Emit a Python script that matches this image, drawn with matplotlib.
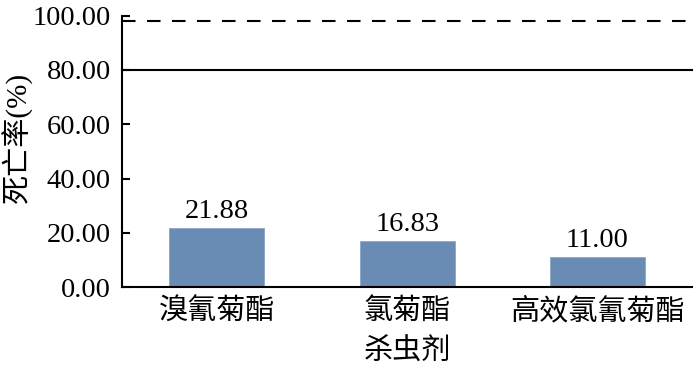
import matplotlib
matplotlib.use('Agg')
import matplotlib.pyplot as plt

plt.rcParams['font.family'] = ['Liberation Serif', 'Noto Sans CJK SC']

categories = ['溴氰菊酯', '氯菊酯', '高效氯氰菊酯']
mortality = [21.88, 16.83, 11.00]
ref_solid = 80
ref_dashed = 98
yticks = [0, 20, 40, 60, 80, 100]

fig = plt.figure(figsize=(7, 3.71), dpi=100)
ax = fig.add_axes([0.174, 0.226, 0.815, 0.732])

x = range(len(categories))
bars = ax.bar(x, mortality, width=0.5, color='#6a8bb4', edgecolor='#8aa6c8', linewidth=0.6, zorder=2)
for xi, v in zip(x, mortality):
    ax.annotate('%.2f' % v, (xi, v), xytext=(0, 3), textcoords='offset points',
                ha='center', va='bottom', fontsize=20.5)

ax.axhline(ref_solid, color='black', lw=1.5, clip_on=False)
ax.axhline(ref_dashed, color='black', lw=1.5, dashes=(6.5, 5.5), clip_on=False)

ax.set_xlim(-0.5, 2.5)
ax.set_ylim(0, 100)
ax.set_yticks(yticks)
ax.set_yticklabels(['%.2f' % t for t in yticks])
ax.set_xticks(list(x))
ax.set_xticklabels(categories)
ax.tick_params(axis='y', direction='in', length=6, width=1.5, labelsize=20.5, pad=8)
ax.tick_params(axis='x', length=0, labelsize=21, pad=8)
for s in ['top', 'right']:
    ax.spines[s].set_visible(False)
for s in ['left', 'bottom']:
    ax.spines[s].set_linewidth(1.5)

ax.set_xlabel('杀虫剂', fontsize=21, labelpad=9)
ax.set_ylabel('死亡率(%)', fontsize=21)
ax.yaxis.set_label_coords(-0.155, 0.55)

fig.savefig('out.png', dpi=100)
